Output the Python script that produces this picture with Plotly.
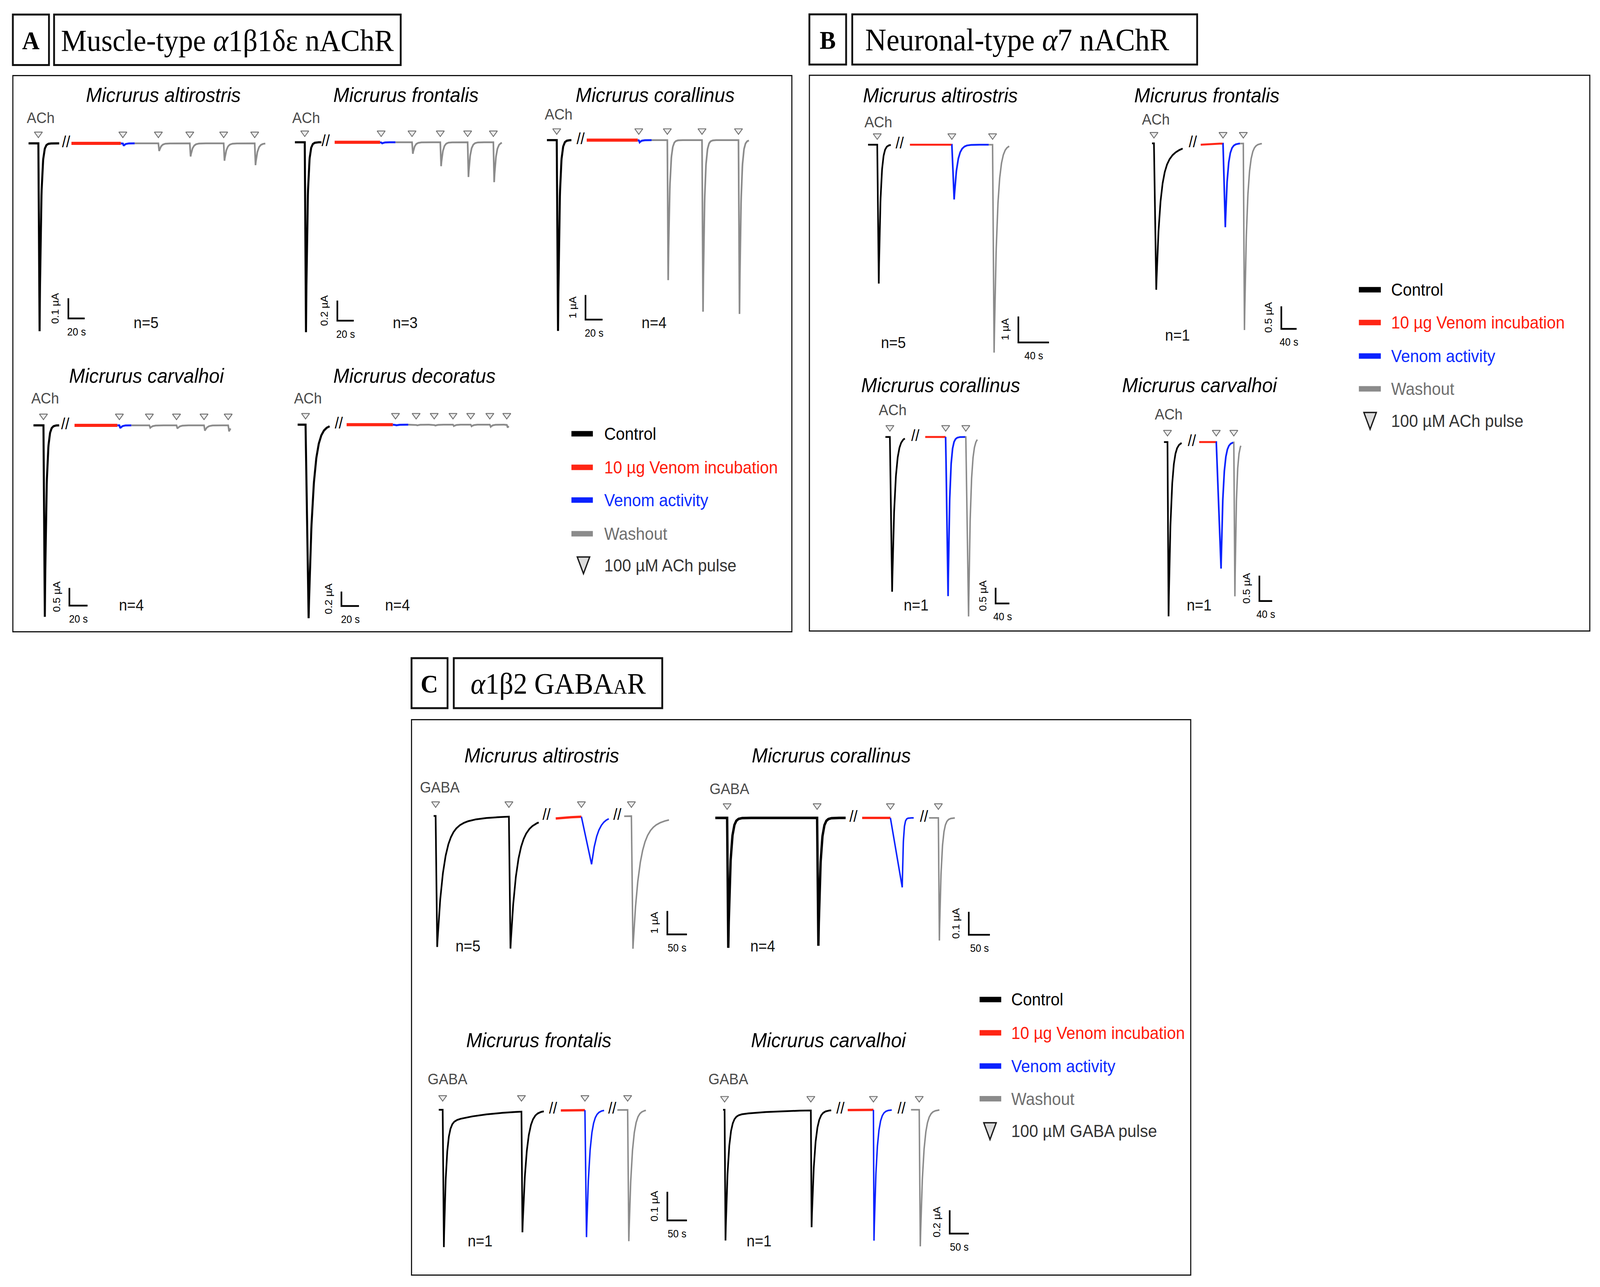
import numpy as np
import plotly.graph_objects as go

# ------------------------------------------------------------------
# DATA (times in s, currents in uA)
# segment order: control, incubation, activity, washout
# ------------------------------------------------------------------
KINDS = ["control", "incubation", "activity", "washout"]

# ---- A: muscle-type nAChR ----
A1_TITLE = "Micrurus altirostris"
A1_N = 5
A1_SCALE = (20, 0.1)
A1_SEG_T = [[0, 37.5], [52.5, 113], [113, 130], [130, 290]]
A1_BREAK_T = [46]
A1_PULSE_T = [12, 115.5, 159, 197.5, 239, 277]
A1_PULSE_AMP = [0.93, 0.012, 0.038, 0.065, 0.086, 0.108]
A1_PULSE_DROP = [1.5, 1, 1, 1, 1, 1]
A1_PULSE_TAU = [1.8, 2, 2.5, 2.5, 2.5, 2.5]
A1_PULSE_SLOW = [0, 0, 0, 0, 0, 0]
A1_TSLOW = 30

A2_TITLE = "Micrurus frontalis"
A2_N = 3
A2_SCALE = (20, 0.2)
A2_SEG_T = [[0, 32.3], [48.4, 103.7], [103.7, 122.5], [122.5, 252]]
A2_BREAK_T = [37.5]
A2_PULSE_T = [12, 105, 142.6, 177, 210.3, 241.6]
A2_PULSE_AMP = [1.88, 0.012, 0.113, 0.237, 0.344, 0.395]
A2_PULSE_DROP = [1.5, 1, 1, 1, 1, 1]
A2_PULSE_TAU = [1.8, 2, 2.2, 2.2, 2.2, 2.2]
A2_PULSE_SLOW = [0, 0, 0, 0, 0, 0]
A2_TSLOW = 30

A3_TITLE = "Micrurus corallinus"
A3_N = 4
A3_SCALE = (20, 1)
A3_SEG_T = [[0, 28.7], [46.7, 106.6], [106.6, 122.8], [122.8, 237]]
A3_BREAK_T = [39.5]
A3_PULSE_T = [11.5, 107.8, 141.3, 182, 224.8]
A3_PULSE_AMP = [7.74, 0.09, 5.68, 6.96, 7.05]
A3_PULSE_DROP = [1.5, 1, 1, 1.2, 1.2]
A3_PULSE_TAU = [1.8, 2, 1.8, 1.8, 1.8]
A3_PULSE_SLOW = [0, 0, 0, 0, 0]
A3_TSLOW = 30

A4_TITLE = "Micrurus carvalhoi"
A4_N = 4
A4_SCALE = (20, 0.5)
A4_SEG_T = [[0, 28.3], [45.2, 92.4], [92.4, 107.8], [107.8, 217]]
A4_BREAK_T = [35]
A4_PULSE_T = [11, 94.6, 127.6, 157.5, 187.8, 214.4]
A4_PULSE_AMP = [5.41, 0.08, 0.07, 0.09, 0.15, 0.17]
A4_PULSE_DROP = [1.5, 1, 1, 1, 1, 1]
A4_PULSE_TAU = [1.8, 2, 2.5, 2.5, 2.5, 2.5]
A4_PULSE_SLOW = [0, 0, 0, 0, 0, 0]
A4_TSLOW = 30

A5_TITLE = "Micrurus decoratus"
A5_N = 4
A5_SCALE = (20, 0.2)
A5_SEG_T = [[0, 36.4], [55.8, 108.5], [108.5, 126], [126, 240.6]]
A5_BREAK_T = [46.9]
A5_PULSE_T = [9, 111.5, 135, 155.6, 177, 197.2, 219, 238.3]
A5_PULSE_AMP = [2.68, 0.01, 0.012, 0.015, 0.02, 0.022, 0.03, 0.04]
A5_PULSE_DROP = [3.5, 1, 1, 1, 1, 1, 1, 1]
A5_PULSE_TAU = [5, 2, 2, 2, 2, 2, 2, 2]
A5_PULSE_SLOW = [0, 0, 0, 0, 0, 0, 0, 0]
A5_TSLOW = 30

# ---- B: neuronal-type alpha7 nAChR ----
B1_TITLE = "Micrurus altirostris"
B1_N = 5
B1_SCALE = (40, 1)
B1_SEG_T = [[0, 29.7], [54.7, 109.3], [109.3, 157.7], [157.7, 184.4]]
B1_BREAK_T = [41.3]
B1_PULSE_T = [12, 109.5, 162.7]
B1_PULSE_AMP = [5.35, 2.11, 8.01]
B1_PULSE_DROP = [2, 3, 2]
B1_PULSE_TAU = [2.5, 4, 4]
B1_PULSE_SLOW = [0, 0, 0]
B1_TSLOW = 30

B2_TITLE = "Micrurus frontalis"
B2_N = 1
B2_SCALE = (40, 0.5)
B2_SEG_T = [[0, 80], [127.2, 184.5], [184.5, 229.9], [229.9, 287]]
B2_BREAK_T = [106.7]
B2_PULSE_T = [5, 185.5, 238.5]
B2_PULSE_AMP = [3.24, 1.85, 4.13]
B2_PULSE_DROP = [6, 6, 3]
B2_PULSE_TAU = [9, 6, 7]
B2_PULSE_SLOW = [0.25, 0, 0]
B2_TSLOW = 35

B3_TITLE = "Micrurus corallinus"
B3_N = 1
B3_SCALE = (40, 0.5)
B3_SEG_T = [[0, 56.3], [115.6, 174.8], [174.8, 232], [232, 266.7]]
B3_BREAK_T = [86.8]
B3_PULSE_T = [13, 175, 233.5]
B3_PULSE_AMP = [4.95, 5.09, 5.74]
B3_PULSE_DROP = [6.5, 7, 8]
B3_PULSE_TAU = [8, 5, 6]
B3_PULSE_SLOW = [0, 0, 0]
B3_TSLOW = 30

B4_TITLE = "Micrurus carvalhoi"
B4_N = 1
B4_SCALE = (40, 0.5)
B4_SEG_T = [[0, 55.4], [110.4, 163.2], [163.2, 217.6], [217.6, 241]]
B4_BREAK_T = [87.4]
B4_PULSE_T = [11, 164, 219]
B4_PULSE_AMP = [3.43, 2.49, 3.03]
B4_PULSE_DROP = [3.4, 15, 3.4]
B4_PULSE_TAU = [8, 7, 5]
B4_PULSE_SLOW = [0, 0, 0]
B4_TSLOW = 30

# ---- C: alpha1beta2 GABA-A receptor ----
C1_TITLE = "Micrurus altirostris"
C1_N = 5
C1_SCALE = (50, 1)
C1_SEG_T = [[0, 268], [311.5, 377], [377, 446.9], [486.2, 600.5]]
C1_BREAK_T = [288, 468.7]
C1_PULSE_T = [5, 192, 377, 504.6]
C1_PULSE_AMP = [5.61, 5.65, 2.05, 5.68]
C1_PULSE_DROP = [4, 4, 26, 4]
C1_PULSE_TAU = [15, 15, 15, 15]
C1_PULSE_SLOW = [0.15, 0.15, 0, 0.15]
C1_TSLOW = 55

C2_TITLE = "Micrurus corallinus"
C2_N = 4
C2_SCALE = (50, 0.1)
C2_SEG_T = [[0, 308.5], [347.6, 414.5], [414.5, 469.6], [506, 567]]
C2_BREAK_T = [327, 494]
C2_PULSE_T = [28, 241, 414.5, 528]
C2_PULSE_AMP = [0.567, 0.558, 0.303, 0.535]
C2_PULSE_DROP = [2.7, 3, 28, 2.4]
C2_PULSE_TAU = [5, 5, 2.5, 5]
C2_PULSE_SLOW = [0, 0, 0, 0]
C2_TSLOW = 30

C3_TITLE = "Micrurus frontalis"
C3_N = 1
C3_SCALE = (50, 0.1)
C3_SEG_T = [[0, 268], [311.5, 373], [373, 421.9], [455.7, 528.6]]
C3_BREAK_T = [291.7, 442.7]
C3_PULSE_T = [10, 211, 373, 482]
C3_PULSE_AMP = [0.479, 0.421, 0.443, 0.458]
C3_PULSE_DROP = [3, 2.5, 4, 3]
C3_PULSE_TAU = [6, 10, 8, 8]
C3_PULSE_SLOW = [0.1, 0, 0, 0]
C3_TSLOW = 100

C4_TITLE = "Micrurus carvalhoi"
C4_N = 1
C4_SCALE = (50, 0.2)
C4_SEG_T = [[0, 283.4], [326.7, 394], [394, 442], [492.5, 566.8]]
C4_BREAK_T = [307.5, 467.6]
C4_PULSE_T = [4, 230, 394, 514]
C4_PULSE_AMP = [1.12, 1.0, 1.12, 1.17]
C4_PULSE_DROP = [2.4, 2, 1.5, 2.8]
C4_PULSE_TAU = [7, 8, 7, 8]
C4_PULSE_SLOW = [0.05, 0, 0, 0]
C4_TSLOW = 100

LEGEND_LABELS = ["Control", "10 µg Venom incubation", "Venom activity", "Washout"]
SECTION_TITLES = {
    "A": "Muscle-type <i>α</i>1β1δε nAChR",
    "B": "Neuronal-type <i>α</i>7 nAChR",
    "C": "<i>α</i>1β2 GABA<span style='font-size:52px'>A</span>R",
}
SECTION_TITLE_SIZE = {"A": 79, "B": 80, "C": 76}
AGONIST = {"A": "ACh", "B": "ACh", "C": "GABA"}
PULSE_LABEL = {"A": "100 µM ACh pulse", "B": "100 µM ACh pulse", "C": "100 µM GABA pulse"}

PANEL_KEYS = ["A1", "A2", "A3", "A4", "A5", "B1", "B2", "B3", "B4", "C1", "C2", "C3", "C4"]

# ------------------------------------------------------------------
# LAYOUT (positions on a 1568 x 1185 grid, scaled to the canvas)
# ------------------------------------------------------------------
W, H = 4359, 3295
GW, GH = 1568.0, 1185.0
K = W / GW


def fx(x):
    return x / GW


def fy(y):
    return 1.0 - y / GH


SANS = "Liberation Sans, Arial, sans-serif"
SERIF = "Liberation Serif, DejaVu Serif, serif"

COLORS = dict(control="#000000", incubation="#ff2514", activity="#0a22ff", washout="#8b8b8b")
TEXT_COLORS = ["#000000", "#ff1a0a", "#0a2aff", "#6f6f6f"]
LINE_W = {
    "A": dict(control=5.5, incubation=8, activity=5, washout=4.5),
    "B": dict(control=4.5, incubation=5, activity=4.5, washout=4),
    "C": dict(control=4.5, incubation=6, activity=4, washout=4),
}

# origin (t=0, baseline), px per s, px per uA, scale-bar corner, label spots
GEOM = {
    "A1": dict(x0=28, y0=132, pps=0.8, ppu=186, sb=(67, 293.2), n=(143, 297), title=(160, 87.5), ag=(40, 108.4), tri=8.7),
    "A2": dict(x0=289, y0=131, pps=0.805, ppu=93, sb=(330.6, 295.3), n=(397, 297), title=(398, 87.5), ag=(300, 108.4), tri=8.7),
    "A3": dict(x0=536, y0=129, pps=0.835, ppu=22.7, sb=(573.8, 294.3), n=(641, 297), title=(642, 87.5), ag=(547.6, 105.3), tri=8.7),
    "A4": dict(x0=32.8, y0=391.6, pps=0.89, ppu=32.6, sb=(68, 557.6), n=(128.7, 557), title=(143.8, 346), ag=(44.4, 366.7), tri=8.6),
    "A5": dict(x0=291.7, y0=391, pps=0.86, ppu=66.5, sb=(334.6, 558), n=(389.6, 557), title=(406, 346), ag=(301.8, 366.7), tri=8.6),
    "B1": dict(x0=850.7, y0=133.2, pps=0.75, ppu=23.9, sb=(998, 315.3), n=(875.7, 315.3), title=(921.7, 87.8), ag=(860.7, 112.4), tri=8.3),
    "B2": dict(x0=1129, y0=132, pps=0.375, ppu=41.6, sb=(1255.7, 302.8), n=(1154, 308.5), title=(1182.7, 87.8), ag=(1132.7, 109.8), tri=8.3),
    "B3": dict(x0=867.7, y0=402.3, pps=0.3375, ppu=28.8, sb=(975.7, 555.6), n=(898, 557), title=(921.7, 354.6), ag=(875, 377.4), tri=8.7),
    "B4": dict(x0=1140.7, y0=407, pps=0.3125, ppu=46.8, sb=(1234.2, 553.4), n=(1175.2, 557), title=(1175.7, 354.6), ag=(1145.2, 381.5), tri=9),
    "C1": dict(x0=425, y0=751.3, pps=0.384, ppu=21.5, sb=(654, 860.3), n=(458.8, 870.9), title=(531, 695.4), ag=(431, 724.8), tri=11.3),
    "C2": dict(x0=701, y0=753.1, pps=0.414, ppu=211, sb=(949.4, 860.7), n=(747.5, 870.9), title=(814.6, 695.4), ag=(714.7, 726.3), tri=11.3),
    "C3": dict(x0=430, y0=1021.8, pps=0.384, ppu=264, sb=(654, 1123.7), n=(470.4, 1142.6), title=(528, 957.7), ag=(438.6, 993.5), tri=11.3),
    "C4": dict(x0=708.6, y0=1021.8, pps=0.374, ppu=107.5, sb=(930.7, 1135.8), n=(744, 1142.6), title=(812, 957.7), ag=(713.7, 993.5), tri=10.5),
}

SECTION_GEOM = {
    "A": dict(letter=(12.6, 13.4, 48, 59.9), tbox=(53, 13.4, 392.7, 59.9), ttx=222.8, outer=(12.6, 69.6, 776, 581.7),
              sw=(560, 581), tx=591.5, rows=[399.4, 430.3, 460.4, 491.4, 520.5], tri_x=571.8),
    "B": dict(letter=(793.2, 13.2, 829.2, 59.4), tbox=(835.2, 13.2, 1173.2, 59.4), ttx=997, outer=(793.2, 69.3, 1558, 581),
              sw=(1331.7, 1353.2), tx=1362.7, rows=[266.8, 297, 327.8, 358, 387.5], tri_x=1342.7),
    "C": dict(letter=(403.3, 606, 438.6, 652), tbox=(444.7, 606, 649, 652), ttx=546.8, outer=(403.3, 662.6, 1166.9, 1174),
              sw=(960, 981.2), tx=990.2, rows=[920.3, 951, 981.5, 1011.7, 1041.5], tri_x=970.2),
}


def current(t, pt, amp, drop, tau, slow, tslow):
    y = np.zeros_like(t, dtype=float)
    for t0, a, d, tf, fs in zip(pt, amp, drop, tau, slow):
        dt = t - t0
        m1 = (dt >= 0) & (dt < d)
        y[m1] -= a * dt[m1] / d
        m2 = dt >= d
        r = dt[m2] - d
        y[m2] -= a * ((1 - fs) * np.exp(-r / tf) + fs * np.exp(-r / tslow))
    return y


def sample(a, b, pt, drop):
    base = np.arange(a, b, 0.2)
    extra = [v for t0, d in zip(pt, drop) for v in (t0, t0 + d) if a <= v <= b]
    return np.unique(np.concatenate([base, [a, b], extra]))


def fmt(v):
    return f"{v:g}"


fig = go.Figure()
axes = {}
annotations = []
shapes = []
G_ = globals()

for idx, key in enumerate(PANEL_KEYS, start=1):
    sec = key[0]
    g = GEOM[key]
    x0, y0, pps, ppu = g["x0"], g["y0"], g["pps"], g["ppu"]
    L = max(x0 - 40, 0)
    R = min(x0 + 330, GW)
    T = max(y0 - 45, 0)
    B = min(y0 + 215, GH)
    xn = "x" if idx == 1 else f"x{idx}"
    yn = "y" if idx == 1 else f"y{idx}"
    axes["xaxis" if idx == 1 else f"xaxis{idx}"] = dict(
        domain=[fx(L), fx(R)], range=[(L - x0) / pps, (R - x0) / pps],
        visible=False, fixedrange=True, anchor=yn)
    axes["yaxis" if idx == 1 else f"yaxis{idx}"] = dict(
        domain=[fy(B), fy(T)], range=[(y0 - B) / ppu, (y0 - T) / ppu],
        visible=False, fixedrange=True, anchor=xn)

    pt = G_[key + "_PULSE_T"]
    amp = G_[key + "_PULSE_AMP"]
    drop = G_[key + "_PULSE_DROP"]
    tau = G_[key + "_PULSE_TAU"]
    slow = G_[key + "_PULSE_SLOW"]
    tslow = G_[key + "_TSLOW"]
    seg = G_[key + "_SEG_T"]
    brk = G_[key + "_BREAK_T"]
    sc_t, sc_i = G_[key + "_SCALE"]

    lw = dict(LINE_W[sec])
    if key == "C2":
        lw["control"] = 6.5
    for kind, (a, b) in zip(KINDS, seg):
        t = sample(a, b, pt, drop)
        y = current(t, pt, amp, drop, tau, slow, tslow)
        fig.add_trace(go.Scatter(
            x=t, y=y, mode="lines",
            line=dict(color=COLORS[kind], width=lw[kind]),
            xaxis=xn, yaxis=yn, showlegend=False, hoverinfo="skip"))

    # pulse triangles
    fig.add_trace(go.Scatter(
        x=pt, y=[g["tri"] / ppu] * len(pt), mode="markers",
        marker=dict(symbol="triangle-down", size=19, color="#ececec",
                    line=dict(color="#6a6a6a", width=2.2)),
        xaxis=xn, yaxis=yn, showlegend=False, hoverinfo="skip", cliponaxis=False))

    # break marks
    fig.add_trace(go.Scatter(
        x=brk, y=[0] * len(brk), mode="text", text=["//"] * len(brk),
        textposition="middle center",
        textfont=dict(family=SANS, size=40, color="#000000"),
        xaxis=xn, yaxis=yn, showlegend=False, hoverinfo="skip", cliponaxis=False))

    # scale bar
    ct = (g["sb"][0] - x0) / pps
    ci = (y0 - g["sb"][1]) / ppu
    fig.add_trace(go.Scatter(
        x=[ct, ct, ct + sc_t], y=[ci + sc_i, ci, ci], mode="lines",
        line=dict(color="#000000", width=4.5),
        xaxis=xn, yaxis=yn, showlegend=False, hoverinfo="skip", cliponaxis=False))
    annotations.append(dict(
        x=ct, y=ci + sc_i / 2, xref=xn, yref=yn, text=f"{fmt(sc_i)} µA",
        textangle=-90, showarrow=False, xanchor="center", yanchor="middle",
        xshift=-12.5 * K, font=dict(family=SANS, size=27, color="#000000")))
    annotations.append(dict(
        x=ct + sc_t / 2, y=ci, xref=xn, yref=yn, text=f"{fmt(sc_t)} s",
        showarrow=False, xanchor="center", yanchor="middle",
        yshift=-12.4 * K, font=dict(family=SANS, size=27, color="#000000")))

    # texts
    annotations.append(dict(
        x=fx(g["title"][0]), y=fy(g["title"][1]), xref="paper", yref="paper",
        text=f"<i>{G_[key + '_TITLE']}</i>", showarrow=False,
        xanchor="center", yanchor="middle",
        font=dict(family=SANS, size=52, color="#000000")))
    annotations.append(dict(
        x=fx(g["ag"][0]), y=fy(g["ag"][1]), xref="paper", yref="paper",
        text=AGONIST[sec], showarrow=False, xanchor="center", yanchor="middle",
        font=dict(family=SANS, size=39, color="#4a4a4a")))
    annotations.append(dict(
        x=fx(g["n"][0]), y=fy(g["n"][1]), xref="paper", yref="paper",
        text=f"n={G_[key + '_N']}", showarrow=False, xanchor="center", yanchor="middle",
        font=dict(family=SANS, size=40, color="#111111")))

# section boxes, titles and legends
for sec, s in SECTION_GEOM.items():
    for (x1, y1, x2, y2), lwid in ((s["letter"], 5), (s["tbox"], 5), (s["outer"], 3)):
        shapes.append(dict(type="rect", xref="paper", yref="paper",
                           x0=fx(x1), y0=fy(y2), x1=fx(x2), y1=fy(y1),
                           line=dict(color="#111111", width=lwid), fillcolor="rgba(0,0,0,0)"))
    lx1, ly1, lx2, ly2 = s["letter"]
    annotations.append(dict(
        x=fx((lx1 + lx2) / 2), y=fy((ly1 + ly2) / 2 + 0.5), xref="paper", yref="paper",
        text=f"<b>{sec}</b>", showarrow=False, xanchor="center", yanchor="middle",
        font=dict(family=SERIF, size=66, color="#000000")))
    tx1, ty1, tx2, ty2 = s["tbox"]
    annotations.append(dict(
        x=fx(s["ttx"]), y=fy((ty1 + ty2) / 2 + 0.5), xref="paper", yref="paper",
        text=SECTION_TITLES[sec], showarrow=False, xanchor="center", yanchor="middle",
        font=dict(family=SERIF, size=SECTION_TITLE_SIZE[sec], color="#000000")))

    for i, kind in enumerate(KINDS):
        yy = s["rows"][i]
        shapes.append(dict(type="line", xref="paper", yref="paper",
                           x0=fx(s["sw"][0]), x1=fx(s["sw"][1]), y0=fy(yy), y1=fy(yy),
                           line=dict(color=COLORS[kind], width=14)))
        annotations.append(dict(
            x=fx(s["tx"]), y=fy(yy), xref="paper", yref="paper", text=LEGEND_LABELS[i],
            showarrow=False, xanchor="left", yanchor="middle",
            font=dict(family=SANS, size=44, color=TEXT_COLORS[i])))
    yy = s["rows"][4]
    cx = s["tri_x"]
    path = (f"M {fx(cx - 6.1)} {fy(yy - 7.7)} L {fx(cx + 6.1)} {fy(yy - 7.7)} "
            f"L {fx(cx)} {fy(yy + 7.7)} Z")
    shapes.append(dict(type="path", xref="paper", yref="paper", path=path,
                       fillcolor="#dcdcdc", line=dict(color="#1a1a1a", width=3.5)))
    annotations.append(dict(
        x=fx(s["tx"]), y=fy(yy), xref="paper", yref="paper", text=PULSE_LABEL[sec],
        showarrow=False, xanchor="left", yanchor="middle",
        font=dict(family=SANS, size=44, color="#333333")))

fig.update_layout(
    width=W, height=H, autosize=False,
    margin=dict(l=0, r=0, t=0, b=0, pad=0),
    paper_bgcolor="#ffffff", plot_bgcolor="rgba(0,0,0,0)",
    showlegend=False, annotations=annotations, shapes=shapes,
    **axes,
)

# stretch the fixed-size figure so it exactly fills the browser viewport
FIT_JS = """
(function(){
  var W = %d, H = %d;
  var de = document.documentElement, b = document.body;
  de.style.margin = '0'; b.style.margin = '0';
  de.style.padding = '0'; b.style.padding = '0';
  de.style.overflow = 'hidden'; b.style.overflow = 'hidden';
  var gd = document.querySelector('.plotly-graph-div');
  if (!gd) return;
  var vw = window.innerWidth, vh = window.innerHeight;
  var sx = vw / W, sy = vh / H;
  if (!(sx > 0 && sy > 0)) return;
  var inner = gd.querySelector('.plot-container') || gd.firstElementChild;
  gd.style.width = vw + 'px';
  gd.style.height = vh + 'px';
  gd.style.overflow = 'hidden';
  if (inner) {
    inner.style.transformOrigin = '0 0';
    inner.style.transform = 'scale(' + sx + ',' + sy + ')';
  }
})();
""" % (W, H)

fig.write_html("out.html", post_script=FIT_JS,
               config={"displayModeBar": False, "responsive": False})
